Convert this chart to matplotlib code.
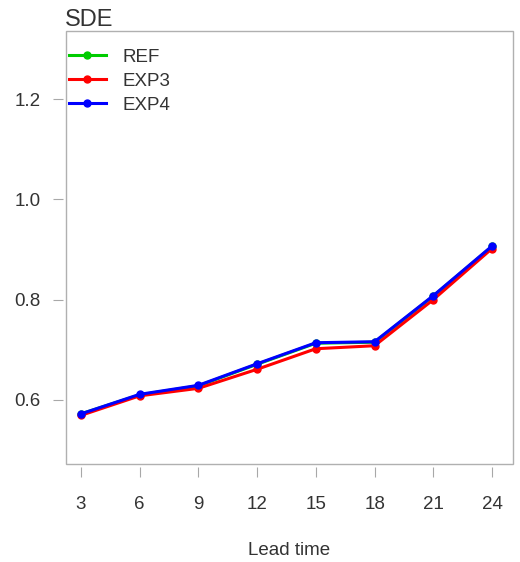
import numpy as np
import matplotlib.pyplot as plt
from matplotlib.patches import Rectangle

# SDE by lead time for three experiments
lead_time = [3, 6, 9, 12, 15, 18, 21, 24]
sde_ref = [0.572, 0.610, 0.628, 0.671, 0.713, 0.715, 0.807, 0.906]
sde_exp3 = [0.569, 0.608, 0.623, 0.661, 0.702, 0.708, 0.800, 0.902]
sde_exp4 = [0.572, 0.611, 0.629, 0.672, 0.714, 0.716, 0.808, 0.907]
y_ticks = [0.6, 0.8, 1.0, 1.2]

txt = '#333333'
fs = 13.5
plt.rcParams['font.family'] = ['Liberation Sans', 'DejaVu Sans']

fig = plt.figure(figsize=(5.2, 5.62), dpi=100)
ax = fig.add_axes([66 / 520, 98 / 562, 447 / 520, 433 / 562])

ax.plot(lead_time, sde_ref, color='#00cc00', lw=2.2, marker='o', ms=5, label='REF')
ax.plot(lead_time, sde_exp3, color='#ff0000', lw=2.2, marker='o', ms=5, label='EXP3')
ax.plot(lead_time, sde_exp4, color='#0000ff', lw=2.2, marker='o', ms=5, label='EXP4')

ax.set_xlim(2.24, 25.07)
ax.set_ylim(0.472, 1.336)
ax.set_xticks(lead_time)
ax.set_yticks(y_ticks)
ax.set_yticklabels([f'{v:.1f}' for v in y_ticks])

# R-style box with ticks set slightly apart
for s in ax.spines.values():
    s.set_color('none')
ax.spines['bottom'].set_position(('outward', 2))
ax.spines['left'].set_position(('outward', 2))
ax.add_patch(Rectangle((0, 0), 1, 1, transform=ax.transAxes, fill=False,
                       ec='#b0b0b0', lw=1.0, clip_on=False))
ax.tick_params(direction='out', length=7.2, width=0.8, color='#a8a8a8',
               labelcolor=txt, labelsize=fs)
ax.tick_params(axis='x', pad=13.5)
ax.tick_params(axis='y', pad=9)

ax.set_xlabel('Lead time', fontsize=fs, color=txt, labelpad=21)
ax.set_title('SDE', loc='left', fontsize=17, color=txt, pad=3, x=-0.003)

leg = ax.legend(loc='upper left', bbox_to_anchor=(-0.034, 1.0), frameon=False,
                fontsize=fs, handlelength=2.0, handletextpad=0.9,
                labelspacing=0.36, borderaxespad=0.55)
for t in leg.get_texts():
    t.set_color(txt)

fig.savefig('out.png', dpi=100)
